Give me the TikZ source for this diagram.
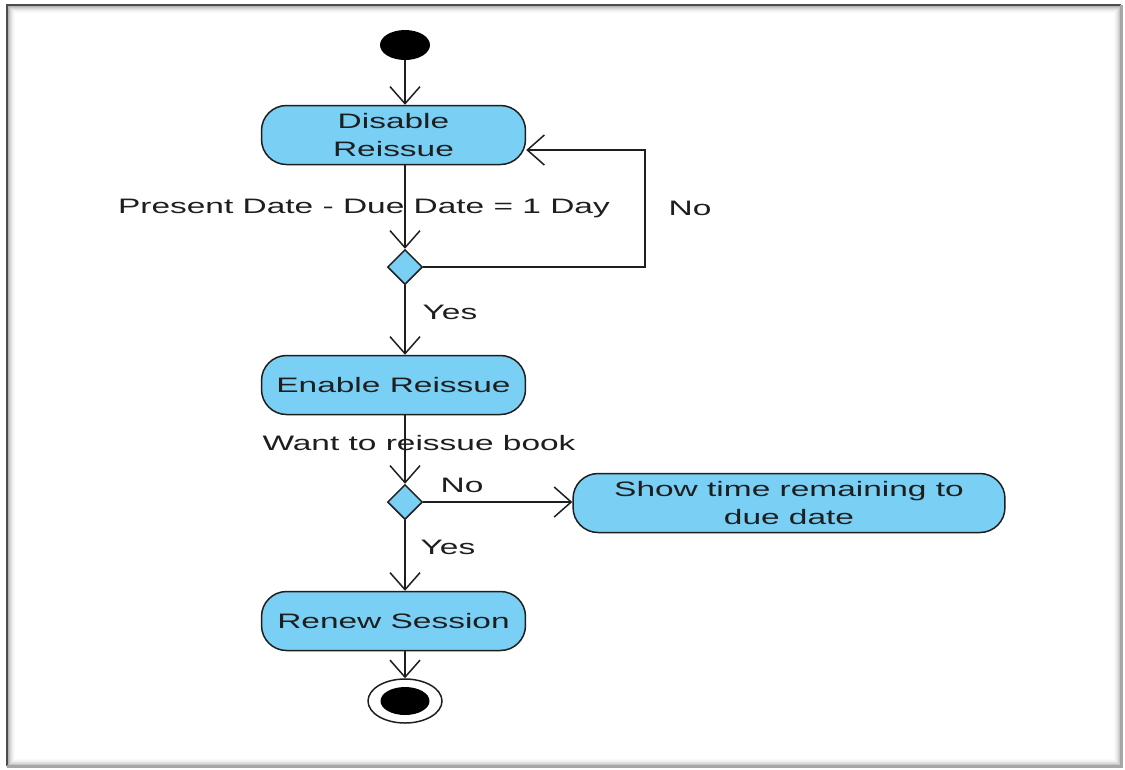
\documentclass[tikz,border=0pt]{standalone}
\usepackage{graphicx}
\usepackage{fontspec}
\setmainfont{Liberation Sans}
\usetikzlibrary{arrows.meta,shapes.geometric}

\definecolor{actfill}{RGB}{122,207,244}
\definecolor{ink}{RGB}{30,30,30}
% wide, flat lettering used throughout the chart
\newcommand{\wide}[1]{\scalebox{1.6}[1]{#1}}

\begin{document}
\begin{tikzpicture}[x=0.02cm,y=-0.02cm,
  every node/.style={font=\fontsize{11.9}{15.8}\selectfont, text=ink},
  act/.style={draw=ink, fill=actfill, rounded corners=0.5cm, line width=0.85pt,
    minimum height=1.18cm, inner sep=0pt, align=center},
  decide/.style={draw=ink, fill=actfill, diamond, line width=0.85pt,
    minimum width=0.7cm, minimum height=0.7cm, inner sep=0pt},
  flow/.style={draw=ink, line width=0.85pt,
    -{Straight Barb[length=0.34cm, width=0.6cm, line width=0.85pt]}},
  lbl/.style={inner sep=0pt}
]
% page and sunken frame
\fill[white] (0,0) rectangle (1125,769);
\foreach \i/\o in {1/0.30,2/0.22,3/0.16,4/0.11,5/0.07,6/0.04,7/0.02}
  \draw[black, opacity=\o, line width=0.02cm] (7+\i,5+\i) rectangle (1121-\i,766-\i);
\draw[black!70, line width=0.04cm] (7,766) -- (7,5) -- (1121,5);
\draw[black!35, line width=0.06cm] (1121,5) -- (1121,766) -- (7,766);

% initial node
\node[ellipse, fill=black, minimum width=1cm, minimum height=0.6cm, inner sep=0pt] (start) at (405,45) {};

% activities
\node[act, minimum width=5.28cm] (dis) at (393.5,135) {\wide{Disable}\\\wide{Reissue}};
\node[decide] (d1) at (405,267) {};
\node[act, minimum width=5.28cm] (en) at (393.5,385) {\wide{Enable Reissue}};
\node[decide] (d2) at (405,502) {};
\node[act, minimum width=8.64cm] (show) at (789,503) {\wide{Show time remaining to}\\\wide{due date}};
\node[act, minimum width=5.28cm] (ren) at (393.5,621) {\wide{Renew Session}};

% final node
\node[ellipse, draw=ink, fill=white, line width=0.85pt, minimum width=1.48cm, minimum height=0.88cm, inner sep=0pt] (fin) at (405,701) {};
\node[ellipse, fill=black, minimum width=0.98cm, minimum height=0.56cm, inner sep=0pt] (finc) at (fin) {};

% control flow
\coordinate (loop) at (645,150);
\draw[flow] (start.south) -- (start |- dis.north);
\draw[flow] (d1 |- dis.south) -- (d1.north);
\draw[flow] (d1.east) -| (loop) -- (dis.east |- loop);
\draw[flow] (d1.south) -- (d1 |- en.north);
\draw[flow] (d2 |- en.south) -- (d2.north);
\draw[flow] (d2.east) -- (show.west |- d2);
\draw[flow] (d2.south) -- (d2 |- ren.north);
\draw[flow] (d2 |- ren.south) -- (fin.north);

% guards
\node[lbl] (g1) at (364,208) {\wide{Present Date - Due Date = 1 Day}};
\node[lbl] (g1n) at (690,208) {\wide{No}};
\node[lbl] (g1y) at (450,312) {\wide{Yes}};
\node[lbl] (g2) at (419,443) {\wide{Want to reissue book}};
\node[lbl] (g2n) at (462,485) {\wide{No}};
\node[lbl] (g2y) at (448,547) {\wide{Yes}};
\end{tikzpicture}
\end{document}
